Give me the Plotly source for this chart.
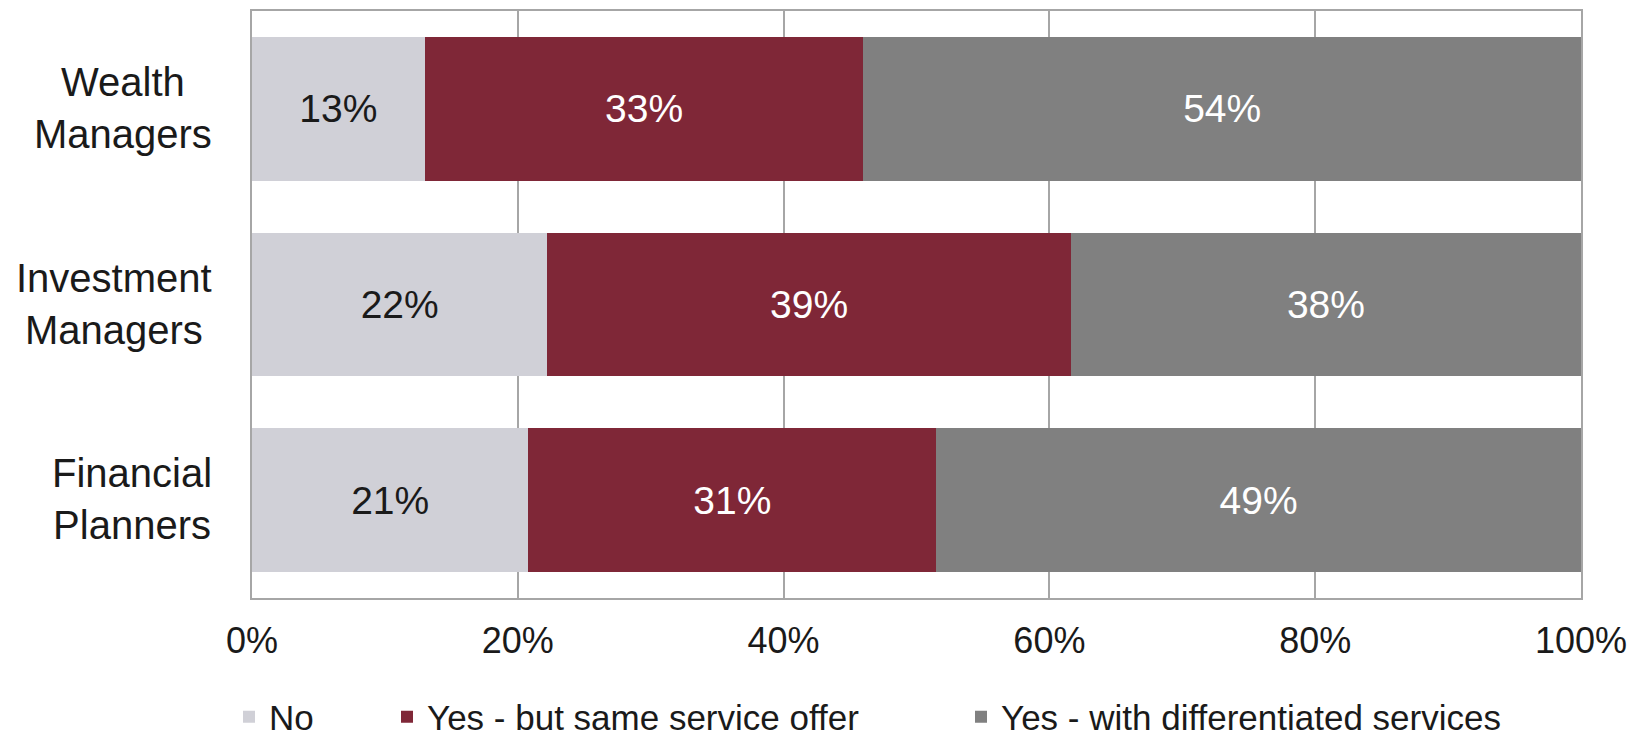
import plotly.graph_objects as go

# Survey shares by firm type (percent of respondents)
categories = ["Wealth Managers", "Investment Managers", "Financial Planners"]
category_labels = ["Wealth<br>Managers", "Investment<br>Managers", "Financial<br>Planners"]
series_names = ["No", "Yes - but same service offer", "Yes - with differentiated services"]
no_values = [13, 22, 21]
same_offer_values = [33, 39, 31]
differentiated_values = [54, 38, 49]
x_ticks = [0, 20, 40, 60, 80, 100]
x_tick_labels = ["0%", "20%", "40%", "60%", "80%", "100%"]

series_values = [no_values, same_offer_values, differentiated_values]
colors = ["#d0d0d7", "#7f2737", "#808080"]
text_colors = ["#1a1a1a", "#ffffff", "#ffffff"]
legend_ids = ["legend", "legend2", "legend3"]

FONT = "Liberation Sans, Arial, Helvetica, sans-serif"

fig = go.Figure()
for name, vals, col, tcol, lg in zip(series_names, series_values, colors, text_colors, legend_ids):
    fig.add_trace(go.Bar(
        y=categories,
        x=vals,
        name=name,
        orientation="h",
        marker=dict(color=col, line=dict(width=0)),
        text=[f"{v}%" for v in vals],
        textposition="inside",
        insidetextanchor="middle",
        textangle=0,
        textfont=dict(family=FONT, size=39, color=tcol),
        legend=lg,
        hoverinfo="skip",
    ))

# Category labels drawn as centred two-line annotations to the left of the axis
for cat, lab in zip(categories, category_labels):
    fig.add_annotation(
        x=0, xref="paper", xshift=-38, xanchor="right",
        y=cat, yref="y", yanchor="middle", yshift=1,
        text=lab, showarrow=False, align="center",
        font=dict(family=FONT, size=40, color="#1a1a1a"),
    )

W_PLOT = 1639 - 252 - 58
H_PLOT = 741 - 11 - 143


def lx(px):
    return (px - 252) / W_PLOT


legend_common = dict(
    orientation="h", yanchor="middle", xanchor="left",
    y=(598 - 717) / H_PLOT,
    font=dict(family=FONT, size=35, color="#1a1a1a"),
    bgcolor="rgba(0,0,0,0)", borderwidth=0,
)

fig.update_layout(
    width=1639, height=741,
    margin=dict(l=252, r=58, t=11, b=143, autoexpand=False),
    paper_bgcolor="white", plot_bgcolor="white",
    barmode="stack", barnorm="percent", bargap=0.266,
    uniformtext=dict(mode=False),
    font=dict(family=FONT, color="#1a1a1a"),
    showlegend=True,
    legend=dict(x=lx(229), **legend_common),
    legend2=dict(x=lx(387), **legend_common),
    legend3=dict(x=lx(961), **legend_common),
    xaxis=dict(
        range=[0, 100], tickvals=x_ticks, ticktext=x_tick_labels,
        showgrid=True, gridcolor="#a6a6a6", gridwidth=2,
        showline=True, linecolor="#a6a6a6", linewidth=2, mirror=True,
        zeroline=False, ticks="", ticklabelstandoff=10,
        tickfont=dict(family=FONT, size=36, color="#1a1a1a"),
        fixedrange=True, automargin=False,
    ),
    yaxis=dict(
        categoryorder="array", categoryarray=categories, autorange="reversed",
        showticklabels=False, showgrid=False,
        showline=True, linecolor="#a6a6a6", linewidth=2, mirror=True,
        ticks="", fixedrange=True, automargin=False,
    ),
)

fig.write_html("out.html")
